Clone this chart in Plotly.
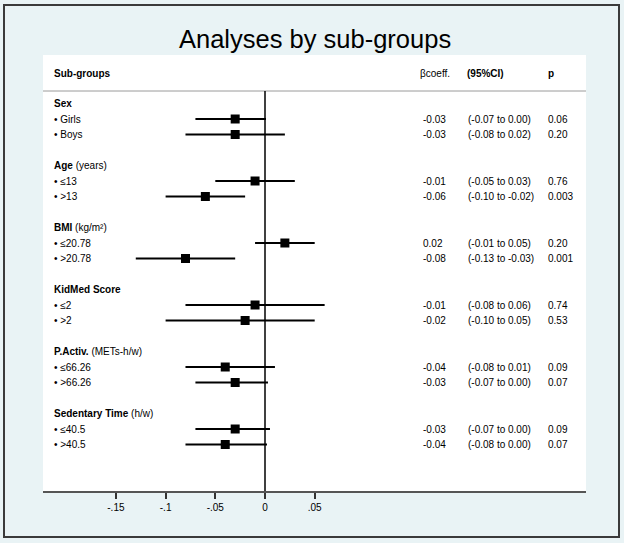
import plotly.graph_objects as go

# ---------------- data ----------------
groups = ["Sex", "Age", "BMI", "KidMed Score", "P.Activ.", "Sedentary Time"]
group_units = ["", " (years)", " (kg/m²)", "", " (METs-h/w)", " (h/w)"]
subgroups = ["Girls", "Boys", "≤13", ">13", "≤20.78", ">20.78",
             "≤2", ">2", "≤66.26", ">66.26", "≤40.5", ">40.5"]
beta = [-0.03, -0.03, -0.01, -0.06, 0.02, -0.08,
        -0.01, -0.02, -0.04, -0.03, -0.03, -0.04]
ci_low = [-0.07, -0.08, -0.05, -0.10, -0.01, -0.13,
          -0.08, -0.10, -0.08, -0.07, -0.07, -0.08]
ci_high = [0.001, 0.02, 0.03, -0.02, 0.05, -0.03,
           0.06, 0.05, 0.01, 0.003, 0.005, 0.002]
beta_labels = ["-0.03", "-0.03", "-0.01", "-0.06", "0.02", "-0.08",
               "-0.01", "-0.02", "-0.04", "-0.03", "-0.03", "-0.04"]
ci_labels = ["(-0.07 to 0.00)", "(-0.08 to 0.02)", "(-0.05 to 0.03)", "(-0.10 to -0.02)",
             "(-0.01 to 0.05)", "(-0.13 to -0.03)", "(-0.08 to 0.06)", "(-0.10 to 0.05)",
             "(-0.08 to 0.01)", "(-0.07 to 0.00)", "(-0.07 to 0.00)", "(-0.08 to 0.00)"]
p_labels = ["0.06", "0.20", "0.76", "0.003", "0.20", "0.001",
            "0.74", "0.53", "0.09", "0.07", "0.09", "0.07"]
tick_vals = [-0.15, -0.10, -0.05, 0.0, 0.05]
tick_text = ["-.15", "-.1", "-.05", "0", ".05"]

# ---------------- layout helpers ----------------
W, H = 624, 543
L, R, T, B = 43, 38, 55, 52
plot_w = W - L - R
plot_h = H - T - B
x0_px, px_per_unit = 265, 994.0
xr = [(L - x0_px) / px_per_unit, (W - R - x0_px) / px_per_unit]
row_px0, row_step = 103.5, 15.5
yr = [(H - B - row_px0) / row_step, (T - row_px0) / row_step]


def px2paper_x(px):
    return (px - L) / plot_w


def py2paper_y(py):
    return (H - B - py) / plot_h


def py2row(py):
    return (py - row_px0) / row_step


# rows: group header, 2 sub-rows, blank
group_rows = [4 * i for i in range(len(groups))]
sub_rows = []
for i in range(len(groups)):
    sub_rows += [4 * i + 1, 4 * i + 2]

FONT = "Liberation Sans, Arial, Helvetica, sans-serif"
TXT = "#000000"

fig = go.Figure()

fig.add_trace(go.Scatter(
    x=beta, y=sub_rows, mode="markers",
    marker=dict(symbol="square", size=9, color="black"),
    error_x=dict(type="data", symmetric=False,
                 array=[h - b for h, b in zip(ci_high, beta)],
                 arrayminus=[b - l for b, l in zip(beta, ci_low)],
                 width=0, thickness=2, color="black"),
    showlegend=False, hoverinfo="skip",
))

ann = []
# header
hdr_row = py2row(73)
ann.append(dict(x=px2paper_x(52), y=hdr_row, text="<b>Sub-groups</b>"))
ann.append(dict(x=px2paper_x(418), y=hdr_row, text="βcoeff."))
ann.append(dict(x=px2paper_x(465), y=hdr_row, text="<b>(95%CI)</b>"))
ann.append(dict(x=px2paper_x(546), y=hdr_row, text="<b>p</b>"))

for g, u, r in zip(groups, group_units, group_rows):
    ann.append(dict(x=px2paper_x(52), y=r, text=f"<b>{g}</b>{u}"))

for i, r in enumerate(sub_rows):
    ann.append(dict(x=px2paper_x(52), y=r, text="• " + subgroups[i]))
    ann.append(dict(x=px2paper_x(421), y=r, text=beta_labels[i]))
    ann.append(dict(x=px2paper_x(466), y=r, text=ci_labels[i]))
    ann.append(dict(x=px2paper_x(546), y=r, text=p_labels[i]))

annotations = []
for a in ann:
    a.update(xref="paper", yref="y", xanchor="left", yanchor="middle",
             showarrow=False, font=dict(family=FONT, size=10, color=TXT))
    annotations.append(a)

annotations.append(dict(
    x=px2paper_x(314.5), y=py2paper_y(38.5), xref="paper", yref="paper",
    xanchor="center", yanchor="middle", showarrow=False,
    text="Analyses by sub-groups",
    font=dict(family=FONT, size=25.5, color="#000000")))

sep_row = py2row(91)
shapes = [
    # separator under the header
    dict(type="line", xref="paper", yref="y", x0=0, x1=1, y0=sep_row, y1=sep_row,
         line=dict(color="#9a9a9a", width=1)),
    # zero line
    dict(type="line", xref="x", yref="y", x0=0, x1=0, y0=sep_row, y1=yr[0],
         line=dict(color="black", width=1.5)),
    # outer frame
    dict(type="rect", xref="paper", yref="paper",
         x0=px2paper_x(4), x1=px2paper_x(619), y0=py2paper_y(537), y1=py2paper_y(5),
         line=dict(color="#3a3a3a", width=2), layer="above"),
]

fig.update_layout(
    width=W, height=H,
    margin=dict(l=L, r=R, t=T, b=B, pad=0),
    paper_bgcolor="#e9f3f5", plot_bgcolor="white",
    annotations=annotations, shapes=shapes,
    font=dict(family=FONT, size=10, color=TXT),
    xaxis=dict(range=xr, showgrid=False, zeroline=False,
               showline=True, linecolor="#555555", linewidth=2,
               ticks="outside", ticklen=6, tickwidth=1.5, tickcolor="#333333",
               tickvals=tick_vals, ticktext=tick_text,
               tickfont=dict(family=FONT, size=10, color=TXT), fixedrange=True),
    yaxis=dict(range=yr, visible=False, showgrid=False, zeroline=False, fixedrange=True),
)

fig.write_html("out.html", config={"displayModeBar": False},
               post_script="document.body.style.margin='0';")
